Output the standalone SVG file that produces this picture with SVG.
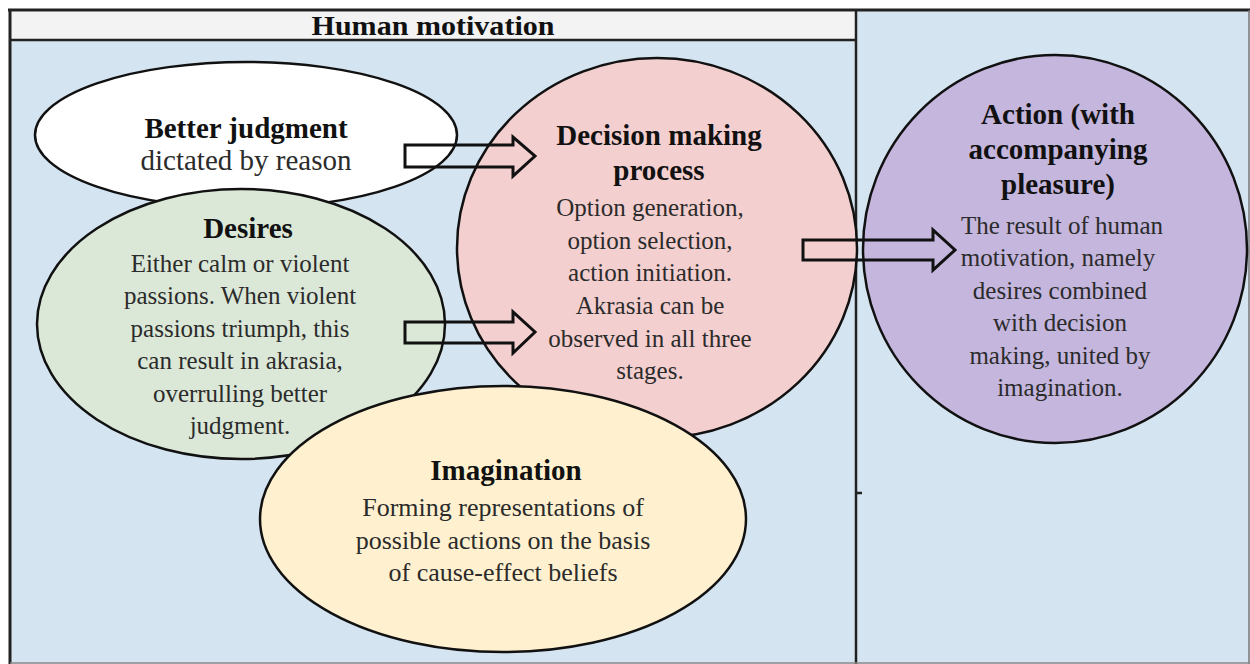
<svg xmlns="http://www.w3.org/2000/svg" width="1250" height="664" viewBox="0 0 1250 664">
<style>
.title{font-family:"Liberation Serif","Times New Roman",serif;font-weight:bold;font-size:29px;fill:#111;text-anchor:middle}
.body{font-family:"Liberation Serif","Times New Roman",serif;font-size:25px;fill:#2b2b2b;text-anchor:middle}
.node{stroke:#111;stroke-width:2.5}
.arrow{fill:none;stroke:#111;stroke-width:3;stroke-linejoin:miter}
.frame{stroke:#222;fill:none}
</style>
<rect x="0" y="0" width="1250" height="664" fill="#ffffff"/>
<g id="panels">
<rect x="10" y="40" width="847" height="624" fill="#d5e4f1"/>
<rect x="857" y="11" width="393" height="653" fill="#d5e4f1"/>
<rect x="10" y="12" width="847" height="28" fill="#f3f3f3"/>
<line class="frame" x1="8" y1="10" x2="1250" y2="10" stroke-width="3"/>
<line class="frame" x1="10" y1="10" x2="10" y2="664" stroke-width="3"/>
<line class="frame" x1="10" y1="40" x2="857" y2="40" stroke-width="2.5"/>
<line class="frame" x1="856" y1="10" x2="856" y2="664" stroke-width="2.5"/>
<line class="frame" x1="856" y1="493" x2="862" y2="493" stroke-width="2.5"/>
<line x1="1249" y1="10" x2="1249" y2="664" stroke="#777" stroke-width="1.5"/>
<line x1="10" y1="663" x2="1250" y2="663" stroke="#888" stroke-width="1.5"/>
<text x="433" y="35" font-family="Liberation Serif, serif" font-weight="bold" font-size="28" fill="#111" text-anchor="middle" textLength="243" lengthAdjust="spacingAndGlyphs">Human motivation</text>
</g>
<g id="better-judgment">
<ellipse class="node" cx="246" cy="135" rx="211" ry="73" fill="#ffffff"/>
<text class="title" x="246" y="138">Better judgment</text>
<text class="body" x="246" y="170" style="font-size:29px">dictated by reason</text>
</g>
<g id="desires">
<ellipse class="node" cx="241" cy="324" rx="204" ry="135" fill="#dbe8d8"/>
<text class="title" x="248" y="238">Desires</text>
<text class="body" x="240" y="272">Either calm or violent</text>
<text class="body" x="240" y="304">passions. When violent</text>
<text class="body" x="240" y="337">passions triumph, this</text>
<text class="body" x="240" y="369">can result in akrasia,</text>
<text class="body" x="240" y="402">overrulling better</text>
<text class="body" x="240" y="434">judgment.</text>
</g>
<g id="decision-making">
<ellipse class="node" cx="657" cy="248" rx="200" ry="190" fill="#f4cfcf"/>
<text class="title" x="659" y="145">Decision making</text>
<text class="title" x="659" y="180">process</text>
<text class="body" x="650" y="216">Option generation,</text>
<text class="body" x="650" y="249">option selection,</text>
<text class="body" x="650" y="281">action initiation.</text>
<text class="body" x="650" y="314">Akrasia can be</text>
<text class="body" x="650" y="347">observed in all three</text>
<text class="body" x="650" y="379">stages.</text>
</g>
<g id="imagination">
<ellipse class="node" cx="503" cy="519" rx="243" ry="133" fill="#fff1cf"/>
<text class="title" x="506" y="480">Imagination</text>
<text class="body" x="503" y="516" style="font-size:26px">Forming representations of</text>
<text class="body" x="503" y="549" style="font-size:26px">possible actions on the basis</text>
<text class="body" x="503" y="581" style="font-size:26px">of cause-effect beliefs</text>
</g>
<g id="action">
<ellipse class="node" cx="1055" cy="249" rx="192" ry="194" fill="#c4b6dd"/>
<text class="title" x="1058" y="124">Action (with</text>
<text class="title" x="1058" y="159">accompanying</text>
<text class="title" x="1058" y="194">pleasure)</text>
<text class="body" x="1062" y="234">The result of human</text>
<text class="body" x="1058" y="266">motivation, namely</text>
<text class="body" x="1060" y="299">desires combined</text>
<text class="body" x="1060" y="331">with decision</text>
<text class="body" x="1060" y="364">making, united by</text>
<text class="body" x="1060" y="396">imagination.</text>
</g>
<g id="connectors">
<path class="arrow" d="M405,145 L513,145 L513,137 L535,156 L513,176 L513,167 L405,167 Z"/>
<path class="arrow" d="M405,322 L513,322 L513,312 L535,332 L513,353 L513,343 L405,343 Z"/>
<path class="arrow" d="M803,240 L933,240 L933,230 L955,250 L933,270 L933,260 L803,260 Z"/>
</g>
</svg>
